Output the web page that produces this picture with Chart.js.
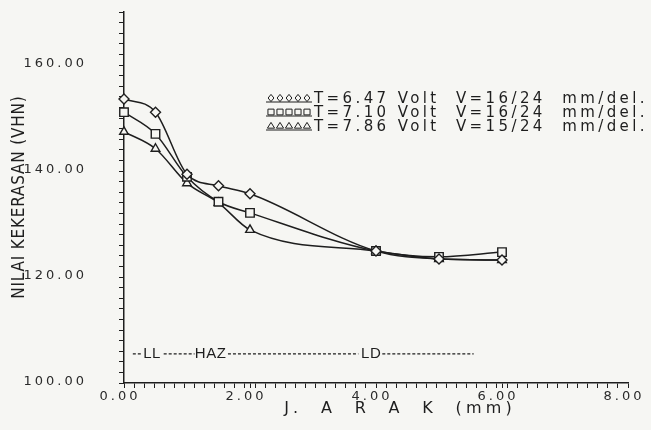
<!DOCTYPE html>
<html>
<head>
<meta charset="utf-8">
<script src="https://cdn.jsdelivr.net/npm/chart.js@4.4.1/dist/chart.umd.min.js"></script>
<style>
  html, body { margin: 0; padding: 0; background: #f6f6f3; }
  #wrap { width: 651px; height: 430px; }
</style>
</head>
<body>
<div id="wrap"><canvas id="grafikKekerasan" width="651" height="430"></canvas></div>
<script>
// ——— data dibaca dari grafik ———
var jarak = [0, 0.5, 1.0, 1.5, 2.0, 4.0, 5.0, 6.0];
var kekerasanT647 = [153.6, 151.1, 139.4, 137.2, 135.7, 124.9, 123.4, 123.2];
var kekerasanT710 = [151.1, 147.0, 138.9, 134.2, 132.1, 124.9, 123.8, 124.7];
var kekerasanT786 = [147.4, 144.2, 137.7, 134.0, 128.9, 124.9, 123.4, 123.2];

var namaSeri = [
  'T=6.47 Volt  V=16/24  mm/del.',
  'T=7.10 Volt  V=16/24  mm/del.',
  'T=7.86 Volt  V=15/24  mm/del.'
];
var gayaTitik = ['rectRot', 'rect', 'triangle'];

var labelSumbuX = [0, 2, 4, 6, 8];
var labelSumbuY = [100, 120, 140, 160];

// zona: logam las (LL), HAZ, logam dasar (LD)
var zonaNama = ['LL', 'HAZ', 'LD'];
var zonaX = [0.44, 1.37, 3.92];
var zonaGaris = [[0.14, 0.28], [0.63, 1.12], [1.65, 3.72], [4.10, 5.55]];
var zonaY = 105.5;

var tinta = '#1e1e1e';
var kertas = '#f6f6f3';

function buatSeri(data, i) {
  return {
    label: namaSeri[i],
    data: jarak.map(function (x, k) { return { x: x, y: data[k] }; }),
    borderColor: tinta,
    borderWidth: 1.5,
    cubicInterpolationMode: 'monotone',
    pointStyle: gayaTitik[i],
    pointRadius: i === 1 ? 6 : 5,
    pointBorderWidth: 1.4,
    pointBorderColor: tinta,
    pointBackgroundColor: kertas,
    clip: false,
    fill: false
  };
}

// penanda kecil untuk legenda
function gambarPenanda(ctx, gaya, x, y, r) {
  ctx.beginPath();
  if (gaya === 'rectRot') {
    ctx.moveTo(x, y - r); ctx.lineTo(x + r * 0.8, y); ctx.lineTo(x, y + r); ctx.lineTo(x - r * 0.8, y);
  } else if (gaya === 'rect') {
    ctx.rect(x - r * 0.85, y - r * 0.8, r * 1.7, r * 1.6);
  } else {
    ctx.moveTo(x, y - r); ctx.lineTo(x + r, y + r * 0.6); ctx.lineTo(x - r, y + r * 0.6);
  }
  ctx.closePath();
  ctx.stroke();
}

// teks berjarak, ditengahkan secara manual
function teksTengah(ctx, teks, x, y, spasi) {
  ctx.letterSpacing = '0px';
  var lebar = ctx.measureText(teks).width + (teks.length - 1) * spasi;
  ctx.letterSpacing = spasi + 'px';
  ctx.textAlign = 'left';
  ctx.fillText(teks, x - lebar / 2, y);
}

var pluginTeks = {
  id: 'pluginTeks',
  beforeDraw: function (chart) {
    // huruf plotter: jarak antar huruf lebar
    chart.ctx.letterSpacing = '3px';
  },
  afterDraw: function (chart) {
    var ctx = chart.ctx;
    var sx = chart.scales.x, sy = chart.scales.y, area = chart.chartArea;
    ctx.save();
    ctx.fillStyle = tinta;
    ctx.strokeStyle = tinta;
    ctx.textBaseline = 'middle';

    // judul sumbu Y
    ctx.save();
    ctx.translate(20, (area.top + area.bottom) / 2);
    ctx.rotate(-Math.PI / 2);
    ctx.font = '17px "Liberation Sans Narrow", "DejaVu Sans Condensed", sans-serif';
    teksTengah(ctx, 'NILAI KEKERASAN (VHN)', 0, 0, 0.8);
    ctx.restore();

    // judul sumbu X
    ctx.font = '16px "DejaVu Sans", sans-serif';
    teksTengah(ctx, 'J.  A  R  A  K  (mm)', (area.left + area.right) / 2 + 22, 409, 4.2);

    // legenda
    ctx.letterSpacing = '3.4px';
    ctx.font = '15px "DejaVu Sans", sans-serif';
    ctx.textAlign = 'left';
    ctx.lineWidth = 1;
    for (var i = 0; i < namaSeri.length; i++) {
      var ly = 98 + i * 14;
      for (var k = 0; k < 5; k++) {
        gambarPenanda(ctx, gayaTitik[i], 271 + k * 9, ly, 3.6);
      }
      ctx.beginPath();
      ctx.moveTo(266, ly + 4);
      ctx.lineTo(312, ly + 4);
      ctx.stroke();
      ctx.fillText(namaSeri[i], 314, ly + 1);
    }

    // garis zona LL / HAZ / LD
    var py = sy.getPixelForValue(zonaY);
    ctx.lineWidth = 1.3;
    ctx.setLineDash([3, 2]);
    zonaGaris.forEach(function (g) {
      ctx.beginPath();
      ctx.moveTo(sx.getPixelForValue(g[0]), py);
      ctx.lineTo(sx.getPixelForValue(g[1]), py);
      ctx.stroke();
    });
    ctx.setLineDash([]);
    ctx.font = '15px "Liberation Sans", sans-serif';
    zonaNama.forEach(function (n, j) {
      teksTengah(ctx, n, sx.getPixelForValue(zonaX[j]), py, 0.5);
    });

    ctx.restore();
  }
};

var xTicks = function (scale) {
  var t = [];
  for (var i = 0; i <= 50; i++) t.push({ value: +(i * 0.16).toFixed(2) });
  labelSumbuX.forEach(function (v) {
    if (!t.some(function (k) { return Math.abs(k.value - v) < 1e-6; })) t.push({ value: v });
  });
  t.sort(function (a, b) { return a.value - b.value; });
  scale.ticks = t;
};

var yTicks = function (scale) {
  var t = [];
  for (var v = 100; v <= 170; v += 2) t.push({ value: v });
  scale.ticks = t;
};

new Chart(document.getElementById('grafikKekerasan'), {
  type: 'line',
  data: {
    datasets: [
      buatSeri(kekerasanT647, 0),
      buatSeri(kekerasanT710, 1),
      buatSeri(kekerasanT786, 2)
    ]
  },
  options: {
    responsive: false,
    animation: false,
    layout: { padding: { top: 12, right: 23, left: 0, bottom: 0 } },
    plugins: { legend: { display: false }, tooltip: { enabled: false } },
    scales: {
      x: {
        type: 'linear',
        min: 0,
        max: 8,
        afterBuildTicks: xTicks,
        afterFit: function (s) { s.height = 47; },
        grid: { drawOnChartArea: false, drawTicks: true, tickLength: 5, color: tinta, lineWidth: 1 },
        border: { display: true, color: tinta, width: 1.5 },
        ticks: {
          autoSkip: false,
          maxRotation: 0,
          padding: 1,
          labelOffset: -4,
          color: '#2a2a2a',
          font: { family: 'DejaVu Sans', size: 13 },
          callback: function (v) {
            return labelSumbuX.some(function (l) { return Math.abs(l - v) < 1e-6; }) ? v.toFixed(2) : '';
          }
        }
      },
      y: {
        min: 100,
        max: 170,
        afterBuildTicks: yTicks,
        afterFit: function (s) { s.width = 124; s.paddingTop = 0; s.paddingBottom = 0; },
        grid: { drawOnChartArea: false, drawTicks: true, tickLength: 5, color: tinta, lineWidth: 1 },
        border: { display: true, color: tinta, width: 1.5 },
        ticks: {
          autoSkip: false,
          padding: 32,
          labelOffset: -1,
          color: '#2a2a2a',
          font: { family: 'DejaVu Sans', size: 13 },
          callback: function (v) {
            return labelSumbuY.indexOf(v) >= 0 ? v.toFixed(2) : '';
          }
        }
      }
    }
  },
  plugins: [pluginTeks]
});
</script>
</body>
</html>
